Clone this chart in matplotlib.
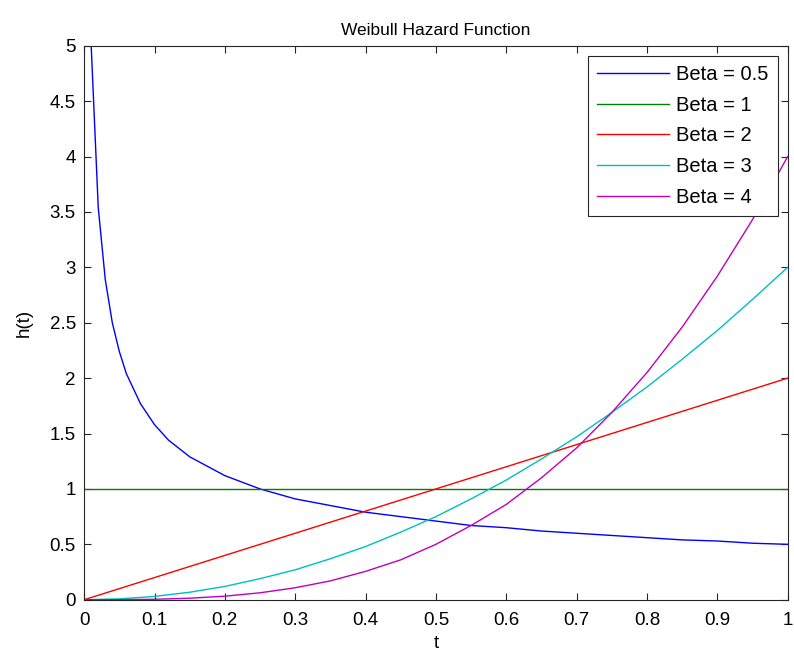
import numpy as np
import matplotlib
matplotlib.use("Agg")
import matplotlib.pyplot as plt

plt.rcParams['font.family'] = ['Liberation Sans', 'DejaVu Sans']

# values
t_b05 = [0.01, 0.02, 0.03, 0.04, 0.05, 0.06, 0.08, 0.10, 0.12, 0.15, 0.20, 0.25,
         0.30, 0.35, 0.40, 0.45, 0.50, 0.55, 0.60, 0.65, 0.70, 0.75, 0.80, 0.85,
         0.90, 0.95, 1.00]
h_b05 = [5.00, 3.54, 2.89, 2.50, 2.24, 2.04, 1.77, 1.58, 1.44, 1.29, 1.12, 1.00,
         0.91, 0.85, 0.79, 0.75, 0.71, 0.67, 0.65, 0.62, 0.60, 0.58, 0.56, 0.54,
         0.53, 0.51, 0.50]

t_b1 = [0.0, 1.0]
h_b1 = [1.0, 1.0]

t_b2 = [0.0, 1.0]
h_b2 = [0.0, 2.0]

t_grid = [0.00, 0.05, 0.10, 0.15, 0.20, 0.25, 0.30, 0.35, 0.40, 0.45, 0.50,
          0.55, 0.60, 0.65, 0.70, 0.75, 0.80, 0.85, 0.90, 0.95, 1.00]
h_b3 = [0.0, 0.0075, 0.03, 0.0675, 0.12, 0.19, 0.27, 0.37, 0.48, 0.61, 0.75,
        0.91, 1.08, 1.27, 1.47, 1.69, 1.92, 2.17, 2.43, 2.71, 3.00]
h_b4 = [0.0, 0.0005, 0.004, 0.0135, 0.032, 0.0625, 0.108, 0.17, 0.256, 0.36, 0.50,
        0.67, 0.86, 1.10, 1.37, 1.69, 2.05, 2.46, 2.92, 3.43, 4.00]

labels = ["Beta = 0.5", "Beta = 1", "Beta = 2", "Beta = 3", "Beta = 4"]
colors = [(0, 0, 1), (0, 0.5, 0), (1, 0, 0), (0, 0.75, 0.75), (0.75, 0, 0.75)]

fig = plt.figure(figsize=(7.94, 6.54), dpi=100)
ax = fig.add_axes([0.106, 0.083, 0.886, 0.847])

series = [(t_b05, h_b05), (t_b1, h_b1), (t_b2, h_b2), (t_grid, h_b3), (t_grid, h_b4)]
for (t, h), lab, c in zip(series, labels, colors):
    ax.plot(t, h, color=c, lw=1.0, label=lab)

ax.set_xlim(0, 1)
ax.set_ylim(0, 5)
ax.set_xticks(np.arange(0, 1.01, 0.1))
ax.set_xticklabels(["0", "0.1", "0.2", "0.3", "0.4", "0.5", "0.6", "0.7", "0.8", "0.9", "1"])
ax.set_yticks(np.arange(0, 5.01, 0.5))
ax.set_yticklabels(["0", "0.5", "1", "1.5", "2", "2.5", "3", "3.5", "4", "4.5", "5"])
ax.tick_params(direction='in', length=5, width=0.8, top=True, right=True,
               labelsize=13.5, color='#262626')
ax.tick_params(axis='x', pad=9)
ax.tick_params(axis='y', pad=6)
for s in ax.spines.values():
    s.set_color('#262626')
    s.set_linewidth(0.8)

ax.set_title("Weibull Hazard Function", fontsize=12.5, pad=8)
ax.set_xlabel("t", fontsize=13.5, labelpad=4)
ax.set_ylabel("h(t)", fontsize=13.5, labelpad=12)

leg = ax.legend(loc='upper right', fontsize=14.5, fancybox=False, framealpha=1,
                edgecolor='#262626', borderaxespad=0.5, handlelength=3.6,
                handletextpad=0.35, labelspacing=0.58, borderpad=0.45)
leg.get_frame().set_linewidth(0.8)

plt.savefig("out.png", dpi=100)
